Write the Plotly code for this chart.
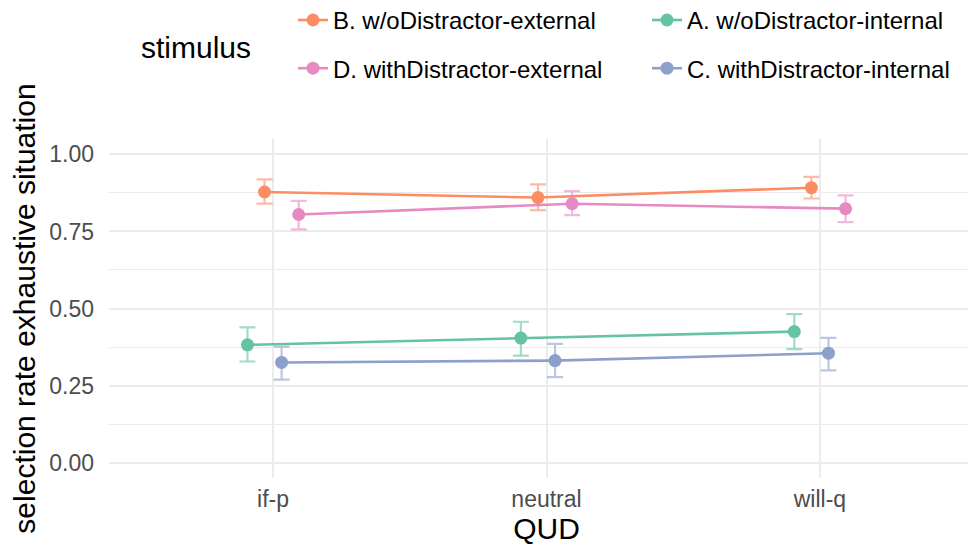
import plotly.graph_objects as go

QUD = ["if-p", "neutral", "will-q"]

stim_A = "A. w/oDistractor-internal"
stim_B = "B. w/oDistractor-external"
stim_C = "C. withDistractor-internal"
stim_D = "D. withDistractor-external"

A_mean = [0.382, 0.404, 0.425]
A_low = [0.328, 0.347, 0.368]
A_high = [0.439, 0.457, 0.482]

B_mean = [0.878, 0.860, 0.892]
B_low = [0.840, 0.819, 0.857]
B_high = [0.919, 0.903, 0.927]

C_mean = [0.325, 0.331, 0.355]
C_low = [0.269, 0.277, 0.299]
C_high = [0.376, 0.385, 0.405]

D_mean = [0.805, 0.840, 0.824]
D_low = [0.757, 0.803, 0.780]
D_high = [0.849, 0.881, 0.867]

colors = {"A": "#66C2A5", "B": "#FC8D62", "C": "#8DA0CB", "D": "#E78AC3"}
ecolors = {"A": "rgba(102,194,165,0.6)", "B": "rgba(252,141,98,0.6)",
           "C": "rgba(141,160,203,0.6)", "D": "rgba(231,138,195,0.6)"}

series = [
    ("A", stim_A, A_mean, A_low, A_high, "legend2"),
    ("B", stim_B, B_mean, B_low, B_high, "legend"),
    ("C", stim_C, C_mean, C_low, C_high, "legend2"),
    ("D", stim_D, D_mean, D_low, D_high, "legend"),
]

dodge_width = 0.25
n = len(series)
FONT = "Liberation Sans, Arial, Helvetica, sans-serif"

# page offset of the figure inside the browser page
OFF = 8
L, R, T, B = 101, 0, 130.5, 79.5
W, H = 976, 550
plot_w = W - L - R
plot_h = H - T - B


def px_x(p):
    return (p - OFF - L) / plot_w


def px_y(p):
    return (H - B - (p - OFF)) / plot_h


fig = go.Figure()
legend_rank = {"B": 1, "D": 2, "A": 1, "C": 2}
for i, (key, name, mean, low, high, leg) in enumerate(series):
    off = (i - (n - 1) / 2) * dodge_width / n
    xs = [k + 1 + off for k in range(len(QUD))]
    fig.add_trace(go.Scatter(
        x=xs, y=mean, name=name, mode="lines+markers",
        line=dict(color=colors[key], width=2.6),
        marker=dict(color=colors[key], size=13),
        error_y=dict(type="data", symmetric=False,
                     array=[h - m for h, m in zip(high, mean)],
                     arrayminus=[m - l for m, l in zip(mean, low)],
                     color=ecolors[key], thickness=2.2, width=8),
        legend=leg, legendrank=legend_rank[key], legendgroup=key,
    ))

legend_common = dict(yanchor="top", orientation="v",
                     font=dict(size=24, color="black"),
                     tracegroupgap=14, bgcolor="rgba(0,0,0,0)",
                     traceorder="grouped", borderwidth=0)

fig.update_layout(
    width=W, height=H,
    margin=dict(l=L, r=R, t=T, b=B, autoexpand=False),
    paper_bgcolor="white", plot_bgcolor="white",
    font=dict(family=FONT, color="black"),
    showlegend=True,
    legend=dict(x=px_x(293), y=px_y(-3), xanchor="left", **legend_common),
    legend2=dict(x=px_x(647), y=px_y(-3), xanchor="left", **legend_common),
    annotations=[dict(text="stimulus", x=px_x(196), y=px_y(47),
                      xref="paper", yref="paper", xanchor="center",
                      yanchor="middle", showarrow=False,
                      font=dict(size=30, color="black"))],
)

fig.update_xaxes(
    range=[0.4, 3.6], tickmode="array", tickvals=[1, 2, 3], ticktext=QUD,
    showgrid=True, gridcolor="#EBEBEB", gridwidth=2, zeroline=False,
    showline=False, ticks="", tickfont=dict(size=23, color="#4D4D4D"),
    ticklabelstandoff=5,
    title=dict(text="QUD", font=dict(size=30, color="black"), standoff=6),
)
fig.update_yaxes(
    range=[-0.05, 1.05], tickmode="array",
    tickvals=[0, 0.25, 0.5, 0.75, 1.0],
    ticktext=["0.00", "0.25", "0.50", "0.75", "1.00"],
    showgrid=True, gridcolor="#EBEBEB", gridwidth=2, zeroline=False,
    showline=False, ticks="", tickfont=dict(size=23, color="#4D4D4D"),
    ticklabelstandoff=14,
    minor=dict(tickvals=[0.125, 0.375, 0.625, 0.875], showgrid=True,
               gridcolor="#EBEBEB", gridwidth=1),
    title=dict(text="selection rate exhaustive situation",
               font=dict(size=30, color="black"), standoff=12),
)

fig.write_html("out.html")
